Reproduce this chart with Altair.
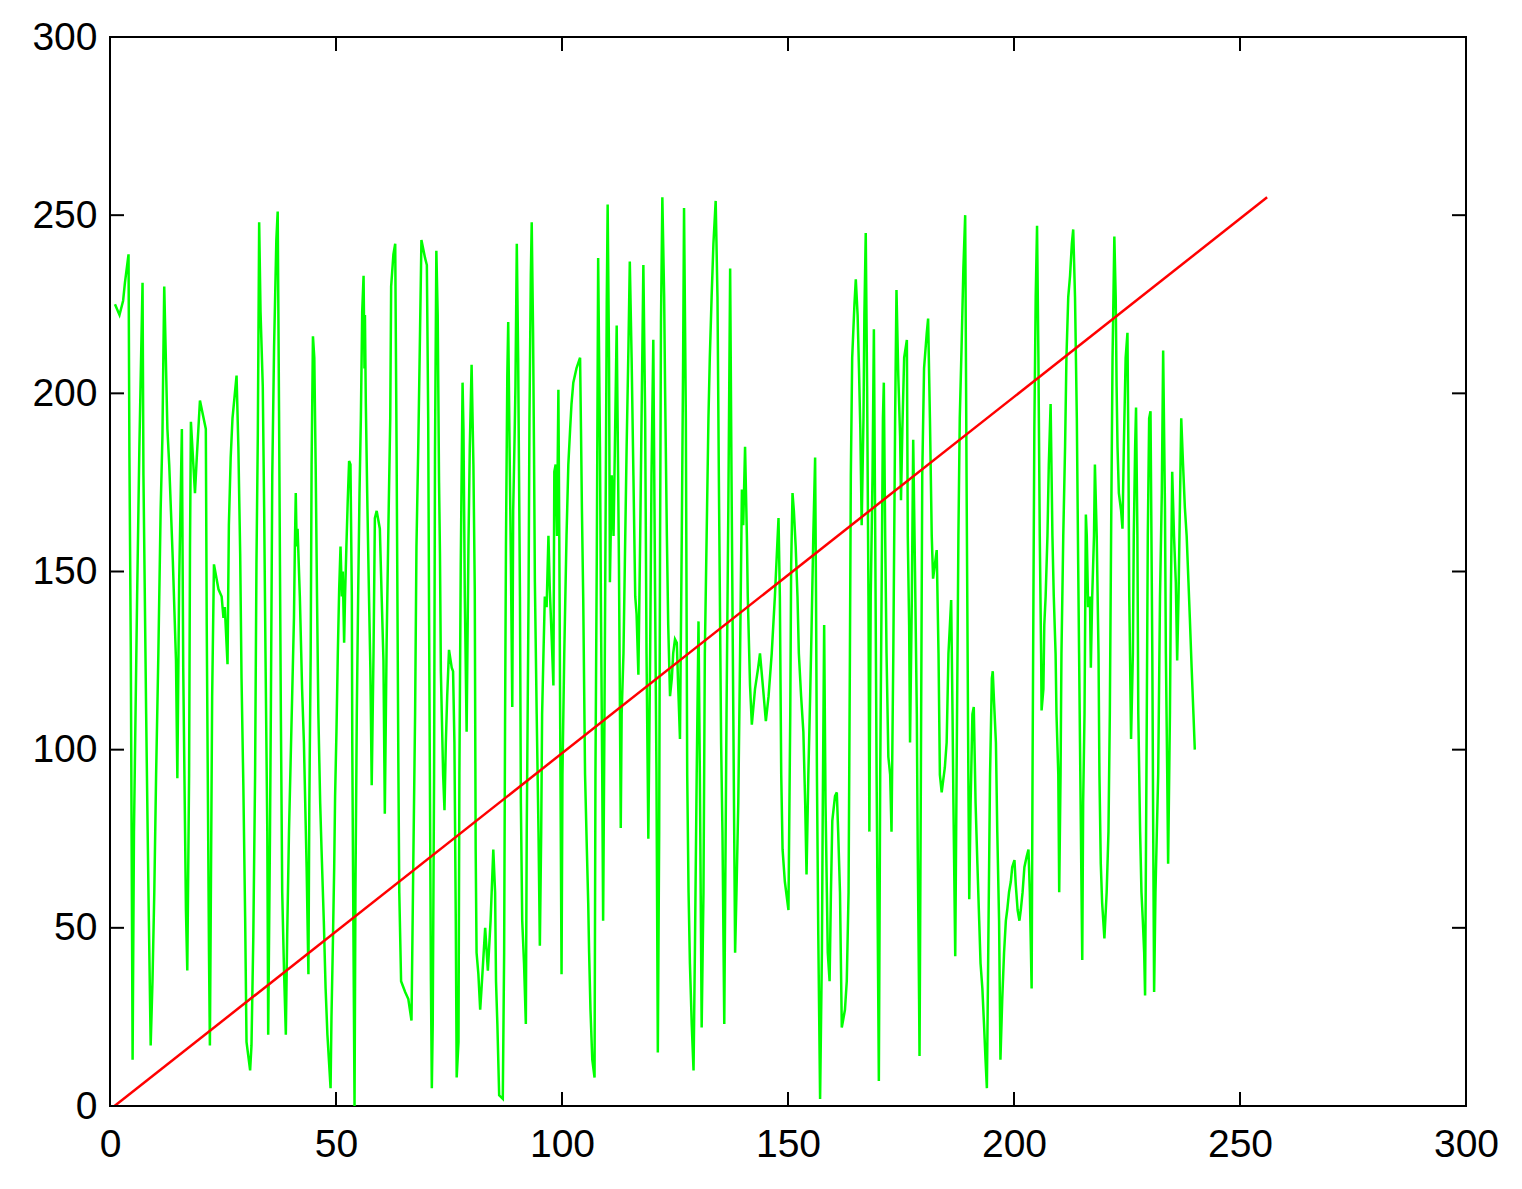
import altair as alt
import pandas as pd

# green series: (x, value) pairs
gx = [1.1, 2.1, 2.9, 3.3, 4.1, 4.3, 4.6, 5.0, 5.3, 6.0, 6.5, 6.8, 7.2, 7.4, 8.0, 8.3, 8.6, 9.0, 9.4, 9.8,
      10.2, 10.7, 11.2, 11.6, 11.8, 12.0, 12.7, 13.1, 13.9, 14.6, 14.9, 15.3, 15.9, 16.2, 16.8, 17.1, 17.5, 17.7, 17.9, 18.8,
      19.2, 19.9, 21.2, 21.4, 21.9, 22.1, 22.6, 23.0, 24.0, 24.7, 25.1, 25.4, 26.0, 26.3, 26.7, 27.1, 28.0, 28.4, 28.8, 29.1,
      29.5, 29.9, 30.2, 31.0, 31.3, 31.7, 32.1, 32.4, 32.7, 33.0, 33.3, 33.8, 34.1, 34.4, 34.8, 35.0,
      35.4, 35.6, 35.9, 36.3, 36.8, 37.1, 37.4, 37.6, 37.8, 38.1, 38.5, 38.9, 39.2, 39.6, 40.3, 40.7, 40.9, 41.1, 41.3, 41.5,
      42.0, 42.5, 42.9, 43.5, 43.9, 44.1, 44.4, 44.6, 44.9, 45.2, 45.5, 45.8, 46.1, 46.5, 46.8, 47.3, 47.7, 48.1, 48.8, 49.0,
      49.3, 49.6, 49.8, 50.1, 50.4, 50.7, 51.0, 51.3, 51.5, 51.8, 52.0, 52.3, 52.6, 52.9, 53.2, 53.5, 53.6, 53.8, 54.1, 54.3,
      54.6, 54.9, 55.2, 55.5, 55.8, 56.1, 56.3, 56.4, 56.6, 56.9, 57.3, 57.6, 57.9, 58.3, 58.6, 59.0, 59.7, 60.1, 60.5, 60.8,
      61.2, 61.6, 62.0, 62.2, 62.7, 63.1, 63.4, 63.8, 64.0, 64.4, 65.3, 66.0, 66.7, 67.1, 67.5, 67.8, 68.2, 68.6, 68.9, 69.7,
      70.1, 70.4, 70.6, 70.8, 71.0, 71.2, 71.4, 71.7, 71.9, 72.2, 72.5, 72.8, 73.0, 73.2, 73.7, 74.0, 74.3, 74.6, 75.0, 75.6,
      75.9, 76.2, 76.5, 76.7, 77.1, 77.3, 77.6, 78.0, 78.2, 78.5, 78.9, 79.3, 79.6, 80.0, 80.4, 80.7, 80.9, 81.1, 81.5, 81.9,
      82.2, 83.0, 83.6, 84.2, 84.8, 85.2, 85.4, 85.7, 86.1, 86.9, 87.2, 87.4, 87.6, 87.9, 88.1, 88.4, 88.7, 89.0, 89.2, 89.5,
      89.7, 90.0, 90.3, 90.7, 90.9, 91.2, 91.6, 92.0, 92.2, 92.6, 92.8, 93.1, 93.3, 93.6, 93.8, 94.0, 94.4, 94.8, 95.1, 95.4,
      95.6, 95.9, 96.2, 96.6, 97.0, 97.3, 97.7, 98.1, 98.3, 98.6, 98.9, 99.2, 99.4, 99.6, 99.9, 100.1, 100.5, 101.0, 101.4, 101.8,
      102.1, 102.5, 103.2, 104.0, 104.2, 104.4, 104.7, 105.1, 105.5, 105.8, 106.0, 106.3, 106.7, 107.2, 107.4, 107.7, 107.9, 108.0, 108.4, 108.6,
      108.9, 109.1, 109.4, 109.7, 109.9, 110.1, 110.4, 110.6, 111.0, 111.4, 111.7, 112.1, 112.3, 112.6, 113.0, 113.2, 113.6, 113.9, 114.3, 114.7,
      115.0, 115.4, 115.8, 116.2, 116.5, 116.9, 117.3, 117.6, 118.0, 118.4, 118.7, 119.1, 119.5, 119.8, 120.2, 120.6, 120.9, 121.2, 121.5, 121.7,
      121.9, 122.2, 122.6, 122.8, 123.2, 123.5, 123.9, 124.3, 124.6, 125.0, 125.4, 125.7, 126.1, 126.5, 126.8, 127.0, 127.4, 127.7, 128.0, 128.3,
      128.7, 129.1, 129.4, 129.8, 130.2, 130.5, 130.9, 131.3, 131.6, 132.0, 132.4, 132.7, 133.1, 133.5, 134.0, 134.4, 134.7, 135.2, 135.5, 135.9,
      136.4, 136.8, 137.2, 137.5, 137.9, 138.3, 138.6, 139.0, 139.4, 139.8, 140.1, 140.5, 140.9, 141.1, 141.6, 142.0, 142.7, 143.4, 143.8, 144.5,
      145.1, 145.7, 146.4, 147.1, 147.9, 148.2, 148.5, 148.8, 149.3, 150.1, 150.5, 150.7, 151.0, 151.3, 151.7, 152.1, 152.4, 152.9, 153.4, 153.8,
      154.1, 154.5, 154.9, 155.2, 155.6, 156.0, 156.2, 156.4, 156.7, 157.1, 157.5, 157.7, 158.0, 158.3, 158.6, 158.8, 159.2, 159.5, 159.8, 160.4,
      160.8, 161.1, 161.5, 161.9, 162.6, 163.0, 163.4, 163.7, 163.9, 164.2, 164.7, 165.0, 165.4, 165.7, 166.0, 166.3, 166.7, 166.9, 167.2, 167.5,
      167.8, 168.0, 168.3, 168.7, 169.0, 169.3, 169.6, 170.1, 170.4, 170.7, 171.0, 171.2, 171.5, 171.8, 172.2, 172.6, 172.9, 173.3, 173.7, 174.0,
      174.4, 174.8, 175.0, 175.3, 175.7, 176.3, 176.5, 176.8, 177.0, 177.4, 177.7, 178.1, 178.5, 178.7, 179.0, 179.1, 179.4, 179.7, 180.1, 180.7,
      181.0, 181.4, 181.8, 182.1, 182.9, 183.3, 183.6, 184.0, 184.7, 185.1, 185.5, 186.1, 186.4, 186.6, 187.0, 187.3, 187.7, 188.0, 188.4, 188.8,
      189.2, 189.5, 189.9, 190.1, 190.4, 190.8, 191.1, 191.5, 191.9, 192.3, 192.6, 193.0, 193.4, 193.7, 194.0, 194.3, 194.7, 195.1, 195.3, 195.6,
      196.0, 196.3, 196.7, 197.0, 197.4, 197.8, 198.2, 198.5, 198.9, 199.3, 199.6, 200.1, 200.4, 200.8, 201.2, 201.5, 201.9, 202.3, 202.8, 203.2,
      203.5, 203.9, 204.1, 204.3, 204.5, 204.8, 205.1, 205.4, 205.7, 206.0, 206.1, 206.5, 206.7, 207.0, 207.4, 207.7, 208.1, 208.5, 208.8, 209.2,
      209.4, 209.8, 210.0, 210.3, 210.5, 210.9, 211.3, 211.6, 212.0, 212.4, 212.8, 213.1, 213.5, 213.9, 214.2, 214.4, 214.6, 214.8, 215.1, 215.3,
      215.6, 215.9, 216.1, 216.4, 216.8, 217.0, 217.3, 217.7, 217.9, 218.3, 218.7, 218.9, 219.2, 219.5, 220.0, 220.5, 220.9, 221.2, 221.5, 221.8,
      222.2, 222.5, 222.7, 222.9, 223.2, 223.7, 224.0, 224.3, 224.7, 225.1, 225.3, 225.5, 225.9, 226.3, 226.5, 226.8, 227.0, 227.3, 227.5, 227.9,
      228.2, 228.5, 228.8, 229.0, 229.3, 229.6, 229.9, 230.2, 230.6, 230.8, 231.0, 231.3, 231.6, 231.9, 232.3, 232.7, 233.0, 233.4, 233.6, 233.9,
      234.1, 234.5, 234.7, 235.0, 235.4, 235.8, 236.1, 236.4, 236.7, 237.0, 237.4, 237.8, 238.2, 238.6, 238.9, 239.3, 239.7, 240.0]

gy = [225, 222, 226, 231, 239, 182, 128, 13, 77, 143, 185, 205, 231, 177, 110, 80, 52, 17, 35, 60,
      93, 127, 167, 188, 210, 230, 190, 180, 153, 125, 92, 147, 190, 123, 55, 38, 93, 157, 192, 172,
      182, 198, 190, 135, 43, 17, 115, 152, 145, 143, 137, 140, 124, 163, 182, 193, 205, 185, 155, 120,
      90, 53, 18, 10, 17, 47, 93, 152, 188, 248, 223, 202, 168, 127, 77, 20,
      77, 113, 177, 213, 243, 251, 195, 152, 110, 60, 38, 20, 48, 77, 115, 137, 157, 172, 157, 162,
      143, 117, 102, 67, 37, 85, 127, 180, 216, 210, 180, 143, 110, 85, 72, 52, 33, 20, 5, 25,
      45, 67, 87, 105, 127, 145, 157, 143, 150, 130, 143, 157, 170, 181, 180, 143, 102, 60, 0, 60,
      110, 143, 172, 193, 223, 233, 207, 222, 197, 172, 143, 123, 90, 127, 165, 167, 162, 143, 125, 82,
      130, 163, 193, 230, 239, 242, 185, 95, 60, 35, 32, 30, 24, 68, 110, 157, 185, 218, 243, 238,
      236, 193, 135, 85, 35, 5, 23, 93, 183, 240, 222, 175, 155, 122, 93, 83, 102, 115, 128, 123,
      122, 102, 52, 8, 18, 93, 152, 203, 190, 143, 105, 157, 185, 208, 180, 145, 72, 43, 37, 27,
      33, 50, 38, 52, 72, 60, 35, 23, 3, 2, 43, 107, 157, 205, 220, 185, 152, 112, 167, 187,
      202, 242, 210, 143, 85, 52, 40, 23, 77, 143, 193, 233, 248, 217, 185, 147, 110, 77, 45, 77,
      110, 127, 143, 140, 160, 145, 132, 118, 178, 180, 160, 201, 160, 107, 37, 93, 127, 160, 180, 190,
      197, 203, 207, 210, 190, 168, 142, 93, 72, 57, 43, 27, 13, 8, 93, 155, 210, 238, 185, 143,
      93, 52, 110, 177, 225, 253, 210, 147, 177, 160, 185, 219, 193, 152, 78, 110, 127, 152, 185, 213,
      237, 210, 177, 143, 138, 121, 160, 193, 236, 193, 127, 75, 127, 177, 215, 143, 93, 15, 77, 160,
      220, 255, 227, 202, 160, 135, 115, 120, 127, 131, 130, 118, 103, 160, 210, 252, 193, 93, 60, 40,
      23, 10, 43, 93, 136, 93, 22, 60, 127, 160, 193, 210, 227, 242, 254, 227, 177, 102, 77, 23,
      110, 168, 235, 177, 110, 43, 60, 85, 127, 173, 163, 185, 160, 143, 118, 107, 117, 123, 127, 117,
      108, 115, 127, 143, 165, 143, 93, 72, 63, 55, 110, 152, 172, 167, 157, 143, 127, 115, 105, 85,
      65, 93, 115, 133, 160, 182, 143, 93, 48, 2, 43, 85, 135, 85, 60, 43, 35, 60, 80, 87,
      88, 77, 60, 22, 27, 35, 60, 127, 177, 210, 225, 232, 222, 207, 190, 163, 193, 222, 245, 202,
      143, 77, 143, 177, 218, 160, 93, 7, 93, 143, 193, 203, 160, 127, 98, 93, 77, 127, 193, 229,
      205, 188, 170, 190, 210, 215, 160, 135, 102, 143, 187, 150, 110, 72, 30, 14, 93, 177, 207, 217,
      221, 193, 160, 148, 156, 127, 93, 88, 95, 102, 127, 142, 110, 85, 42, 93, 160, 193, 213, 235,
      250, 177, 93, 58, 85, 110, 112, 85, 68, 52, 40, 33, 22, 13, 5, 43, 93, 120, 122, 113,
      102, 77, 52, 13, 30, 43, 52, 55, 60, 63, 67, 69, 62, 55, 52, 55, 60, 67, 70, 72,
      60, 33, 93, 143, 190, 227, 247, 210, 160, 127, 111, 117, 135, 143, 160, 180, 197, 160, 143, 127,
      110, 93, 60, 93, 127, 160, 185, 210, 227, 233, 242, 246, 227, 193, 152, 127, 102, 77, 41, 85,
      110, 166, 160, 140, 143, 123, 143, 160, 180, 160, 127, 93, 68, 57, 47, 60, 77, 110, 163, 210,
      244, 227, 202, 185, 172, 167, 162, 185, 210, 217, 185, 143, 103, 127, 160, 185, 196, 160, 110, 77,
      60, 52, 43, 31, 93, 160, 193, 195, 127, 77, 32, 60, 77, 93, 143, 172, 212, 168, 127, 93,
      68, 110, 143, 178, 160, 147, 125, 143, 168, 193, 180, 168, 160, 147, 137, 123, 110, 100]

# red reference line
rx = [1, 256]
ry = [0, 255]

tick_vals = [0, 50, 100, 150, 200, 250, 300]

W, H = 1356, 1069
TL = 14

green = pd.DataFrame({"x": gx, "y": gy[:len(gx)], "i": list(range(len(gx)))})
red = pd.DataFrame({"x": rx, "y": ry})
ticks = pd.DataFrame({"v": tick_vals})

xs = alt.Scale(domain=[0, 300], nice=False, zero=False)
ys = alt.Scale(domain=[0, 300], nice=False, zero=False)

axis_common = dict(ticks=False, domain=False, grid=False, labelFont="Liberation Sans",
                   labelFontSize=39, labelColor="black", title=None, values=tick_vals,
                   labelFlush=False, labelOverlap=False)

base_x = alt.X("x:Q", scale=xs, axis=alt.Axis(labelPadding=19, **axis_common))
base_y = alt.Y("y:Q", scale=ys, axis=alt.Axis(labelPadding=13, **axis_common))

g_line = alt.Chart(green).mark_line(color="#00FF00", strokeWidth=2.5, clip=True).encode(
    x=base_x, y=base_y, order="i:Q")
r_line = alt.Chart(red).mark_line(color="#FF0000", strokeWidth=2.5, clip=True).encode(
    x=alt.X("x:Q", scale=xs), y=alt.Y("y:Q", scale=ys))

tb = alt.Chart(ticks).mark_rule(color="black", strokeWidth=2).encode(
    x=alt.X("v:Q", scale=xs), y=alt.value(H), y2=alt.value(H - TL))
tt = alt.Chart(ticks).mark_rule(color="black", strokeWidth=2).encode(
    x=alt.X("v:Q", scale=xs), y=alt.value(0), y2=alt.value(TL))
tl = alt.Chart(ticks).mark_rule(color="black", strokeWidth=2).encode(
    y=alt.Y("v:Q", scale=ys), x=alt.value(0), x2=alt.value(TL))
tr = alt.Chart(ticks).mark_rule(color="black", strokeWidth=2).encode(
    y=alt.Y("v:Q", scale=ys), x=alt.value(W - TL), x2=alt.value(W))

chart = alt.layer(g_line, r_line, tb, tt, tl, tr).properties(
    width=W, height=H,
    autosize=alt.AutoSizeParams(type="none"),
    padding={"left": 102, "top": 29, "right": 40, "bottom": 70},
).configure(background="white").configure_view(stroke="black", strokeWidth=2)

chart.save("out.html", embed_options={"renderer": "svg", "actions": False})
